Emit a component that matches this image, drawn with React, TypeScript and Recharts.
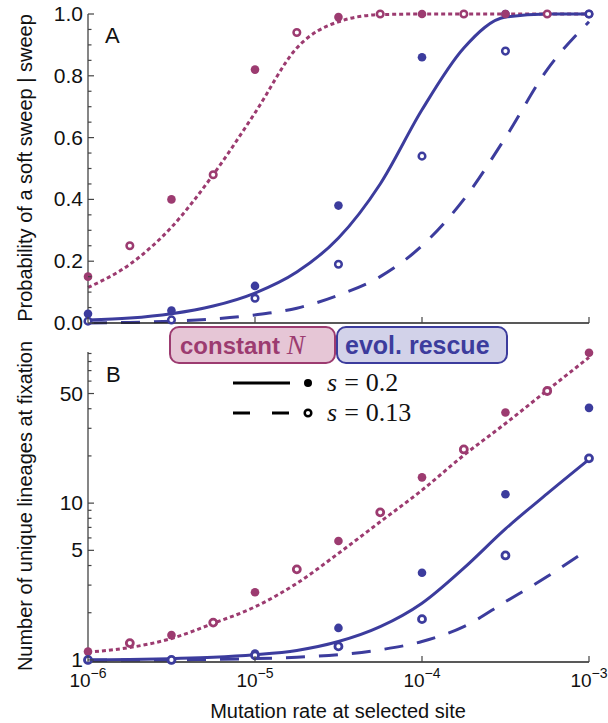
import { ComposedChart, Line, Scatter, XAxis, YAxis } from "recharts";

// mutation rates (x)
const muGrid = [1e-6, 1.78e-6, 3.16e-6, 5.62e-6, 1e-5, 1.78e-5, 3.16e-5, 5.62e-5, 1e-4, 1.78e-4, 3.16e-4, 5.62e-4, 1e-3];
const muHalf = [1e-6, 3.16e-6, 1e-5, 3.16e-5, 1e-4, 3.16e-4, 1e-3];
const muOffset = [1.78e-6, 5.62e-6, 1.78e-5, 5.62e-5, 1.78e-4, 5.62e-4];

// panel A: probability of a soft sweep
const probConstCurve = [0.115, 0.19, 0.31, 0.48, 0.68, 0.89, 0.975, 0.998, 1.0, 1.0, 1.0, 1.0, 1.0];
const probRescueStrongCurve = [0.01, 0.016, 0.03, 0.055, 0.097, 0.165, 0.275, 0.45, 0.69, 0.89, 0.99, 1.0, 1.0];
const probRescueWeakCurve = [0.0, 0.002, 0.006, 0.013, 0.026, 0.048, 0.09, 0.15, 0.25, 0.4, 0.6, 0.82, 0.975];
const probConstStrong = [0.15, 0.4, 0.82, 0.99, 1.0, 1.0, 1.0];
const probConstWeak = [0.25, 0.48, 0.94, 1.0, 1.0, 1.0];
const probRescueStrong = [0.03, 0.04, 0.12, 0.38, 0.86, 1.0, 1.0];
const probRescueWeak = [0.006, 0.01, 0.08, 0.19, 0.54, 0.88, 1.0];

// panel B: number of unique lineages
const linConstCurve = [1.12, 1.2, 1.37, 1.71, 2.18, 3.08, 4.78, 7.6, 12.1, 20.2, 32.2, 52.4, 85];
const linRescueStrongCurve = [1.0, 1.005, 1.02, 1.04, 1.08, 1.15, 1.31, 1.63, 2.3, 3.85, 6.85, 11.5, 19.0];
const linRescueWeakCurve = [1.0, 1.0, 1.0, 1.01, 1.02, 1.04, 1.08, 1.16, 1.31, 1.63, 2.35, 3.4, 5.13];
const linConstStrong = [1.13, 1.44, 2.7, 5.73, 14.6, 37.8, 91];
const linConstWeak = [1.28, 1.73, 3.78, 8.73, 22, 51.9];
const linRescueStrong = [1.0, 1.0, 1.1, 1.6, 3.6, 11.4, 40.5];
const linRescueWeak = [1.0, 1.0, 1.07, 1.22, 1.82, 4.64, 19.3];

const muTicks = [1e-6, 1e-5, 1e-4, 1e-3];
const muTickExp = ["−6", "−5", "−4", "−3"];
const probTicks = [0, 0.05, 0.1, 0.15, 0.2, 0.25, 0.3, 0.35, 0.4, 0.45, 0.5, 0.55, 0.6, 0.65, 0.7, 0.75, 0.8, 0.85, 0.9, 0.95, 1.0];
const probLabels = [0, 0.2, 0.4, 0.6, 0.8, 1.0];
const linTicks = [1, 2, 3, 4, 5, 6, 7, 8, 9, 10, 20, 30, 40, 50, 60, 70, 80, 90];
const linLabels = [1, 5, 10, 50];

const PURPLE = "#9c3b70";
const BLUE = "#3c3c9d";
const AXIS = "#444";
const SANS = "Liberation Sans, Arial, sans-serif";
const SERIF = "Liberation Serif, Times New Roman, serif";

const pts = (xs: number[], ys: number[]) => xs.map((u, i) => ({ u, v: ys[i] }));

const filled = (color: string) => (p: any) => <circle cx={p.cx} cy={p.cy} r={4.3} fill={color} />;
const open = (color: string, r: number, sw: number) => (p: any) => (
    <circle cx={p.cx} cy={p.cy} r={r} fill="white" stroke={color} strokeWidth={sw} />
);

const xTick = (withLabel: boolean) => (p: any) => {
    const i = muTicks.findIndex((t) => Math.abs(t - p.payload.value) / t < 1e-6);
    return (
        <g>
            <line x1={p.x} x2={p.x} y1={p.y} y2={p.y - 6} stroke={AXIS} strokeWidth={1.2} />
            {withLabel && (
                <text x={p.x} y={p.y + 25} textAnchor="middle" fontFamily={SANS} fontSize={19} fill="#111">
                    10<tspan dy={-9} fontSize={14}>{muTickExp[i]}</tspan>
                </text>
            )}
        </g>
    );
};

const yTick = (labels: number[], fmt: (v: number) => string) => (p: any) => {
    const v = p.payload.value;
    const major = labels.some((l) => Math.abs(l - v) < 1e-9);
    return (
        <g>
            <line x1={p.x} x2={p.x + (major ? 6 : 3.5)} y1={p.y} y2={p.y} stroke={AXIS} strokeWidth={1.2} />
            {major && (
                <text x={p.x - 5} y={p.y + 7} textAnchor="end" fontFamily={SANS} fontSize={21} fill="#111">
                    {fmt(v)}
                </text>
            )}
        </g>
    );
};

function PanelA() {
    return (
        <ComposedChart width={608} height={340} margin={{ top: 14, right: 19, bottom: 0, left: 0 }}>
            <XAxis dataKey="u" type="number" scale="log" domain={[1e-6, 1e-3]} ticks={muTicks} interval={0}
                height={17} tickSize={0} tickMargin={0} tick={xTick(false)} axisLine={{ stroke: "#222", strokeWidth: 1.3 }} />
            <YAxis type="number" domain={[0, 1]} ticks={probTicks} interval={0} width={88}
                tickSize={0} tickMargin={0} tick={yTick(probLabels, (v) => v.toFixed(1))} axisLine={{ stroke: AXIS, strokeWidth: 1.3 }} />
            <Line data={pts(muGrid, probConstCurve)} dataKey="v" type="monotone" stroke={PURPLE} strokeWidth={3}
                strokeDasharray="4 3" dot={false} isAnimationActive={false} />
            <Line data={pts(muGrid, probRescueStrongCurve)} dataKey="v" type="monotone" stroke={BLUE} strokeWidth={3}
                dot={false} isAnimationActive={false} />
            <Line data={pts(muGrid, probRescueWeakCurve)} dataKey="v" type="monotone" stroke={BLUE} strokeWidth={3}
                strokeDasharray="19 14" dot={false} isAnimationActive={false} />
            <Scatter data={pts(muHalf, probRescueStrong)} dataKey="v" shape={filled(BLUE)} isAnimationActive={false} />
            <Scatter data={pts(muHalf, probConstStrong)} dataKey="v" shape={filled(PURPLE)} isAnimationActive={false} />
            <Scatter data={pts(muOffset, probConstWeak)} dataKey="v" shape={open(PURPLE, 3.3, 2.5)} isAnimationActive={false} />
            <Scatter data={pts(muHalf, probRescueWeak)} dataKey="v" shape={open(BLUE, 3.3, 2.5)} isAnimationActive={false} />
        </ComposedChart>
    );
}

function PanelB() {
    return (
        <ComposedChart width={608} height={383} margin={{ top: 12, right: 19, bottom: 0, left: 0 }}>
            <XAxis dataKey="u" type="number" scale="log" domain={[1e-6, 1e-3]} ticks={muTicks} interval={0}
                height={61} tickSize={0} tickMargin={0} tick={xTick(true)} axisLine={{ stroke: "#222", strokeWidth: 1.3 }} />
            <YAxis type="number" scale="log" domain={[0.97, 92]} ticks={linTicks} interval={0} width={88}
                tickSize={0} tickMargin={0} tick={yTick(linLabels, (v) => String(v))} axisLine={{ stroke: AXIS, strokeWidth: 1.3 }} />
            <Line data={pts(muGrid, linConstCurve)} dataKey="v" type="monotone" stroke={PURPLE} strokeWidth={3}
                strokeDasharray="4 3" dot={false} isAnimationActive={false} />
            <Line data={pts(muGrid, linRescueStrongCurve)} dataKey="v" type="monotone" stroke={BLUE} strokeWidth={3}
                dot={false} isAnimationActive={false} />
            <Line data={pts(muGrid, linRescueWeakCurve)} dataKey="v" type="monotone" stroke={BLUE} strokeWidth={3}
                strokeDasharray="19 14" dot={false} isAnimationActive={false} />
            <Scatter data={pts(muHalf, linRescueStrong)} dataKey="v" shape={filled(BLUE)} isAnimationActive={false} />
            <Scatter data={pts(muHalf, linConstStrong)} dataKey="v" shape={filled(PURPLE)} isAnimationActive={false} />
            <Scatter data={pts(muOffset, linConstWeak)} dataKey="v" shape={open(PURPLE, 3.5, 2.8)} isAnimationActive={false} />
            <Scatter data={pts(muHalf, linRescueWeak)} dataKey="v" shape={open(BLUE, 3.5, 2.8)} isAnimationActive={false} />
        </ComposedChart>
    );
}

function Overlay() {
    return (
        <svg width={608} height={723} style={{ position: "absolute", left: 0, top: 0, pointerEvents: "none" }}>
            <text transform="translate(25,168) rotate(-90)" textAnchor="middle" dominantBaseline="central"
                fontFamily={SANS} fontSize={20} fill="#111">Probability of a soft sweep | sweep</text>
            <text transform="translate(25,506) rotate(-90)" textAnchor="middle" dominantBaseline="central"
                fontFamily={SANS} fontSize={20} fill="#111">Number of unique lineages at fixation</text>
            <text x={338} y={718} textAnchor="middle" fontFamily={SANS} fontSize={20} fill="#111">
                Mutation rate at selected site
            </text>
            <text x={105} y={43} fontFamily={SANS} fontSize={22} fill="#111">A</text>
            <text x={106} y={382} fontFamily={SANS} fontSize={22} fill="#111">B</text>

            <rect x={170} y={327} width={165} height={36} rx={9} fill="#e6c6d6" stroke={PURPLE} strokeWidth={2} />
            <text x={180} y={354} fontFamily={SANS} fontWeight="bold" fontSize={24} fill={PURPLE}>
                constant{" "}
                <tspan fontFamily={SERIF} fontStyle="italic" fontWeight="normal" fontSize={27}>N</tspan>
            </text>
            <rect x={337} y={327} width={170} height={36} rx={9} fill="#d2d2e9" stroke={BLUE} strokeWidth={2} />
            <text x={345} y={354} fontFamily={SANS} fontWeight="bold" fontSize={25} fill={BLUE}>evol. rescue</text>

            <line x1={233} x2={290} y1={383} y2={383} stroke="#000" strokeWidth={3} />
            <circle cx={308} cy={383} r={4} fill="#000" />
            <text x={327} y={391} fontFamily={SERIF} fontSize={26} fill="#111">
                <tspan fontStyle="italic">s</tspan><tspan dx={7}>=</tspan><tspan dx={7}>0.2</tspan>
            </text>
            <line x1={233} x2={290} y1={413} y2={413} stroke="#000" strokeWidth={3} strokeDasharray="17 22" />
            <circle cx={308} cy={413} r={3.3} fill="white" stroke="#000" strokeWidth={2.5} />
            <text x={327} y={421} fontFamily={SERIF} fontSize={26} fill="#111">
                <tspan fontStyle="italic">s</tspan><tspan dx={7}>=</tspan><tspan dx={7}>0.13</tspan>
            </text>
        </svg>
    );
}

export default function App() {
    return (
        <div style={{ position: "absolute", left: 0, top: 0, width: 608, height: 723, background: "white", fontFamily: SANS }}>
            <div style={{ position: "absolute", left: 0, top: 0 }}>
                <PanelA />
            </div>
            <div style={{ position: "absolute", left: 0, top: 340 }}>
                <PanelB />
            </div>
            <Overlay />
        </div>
    );
}
